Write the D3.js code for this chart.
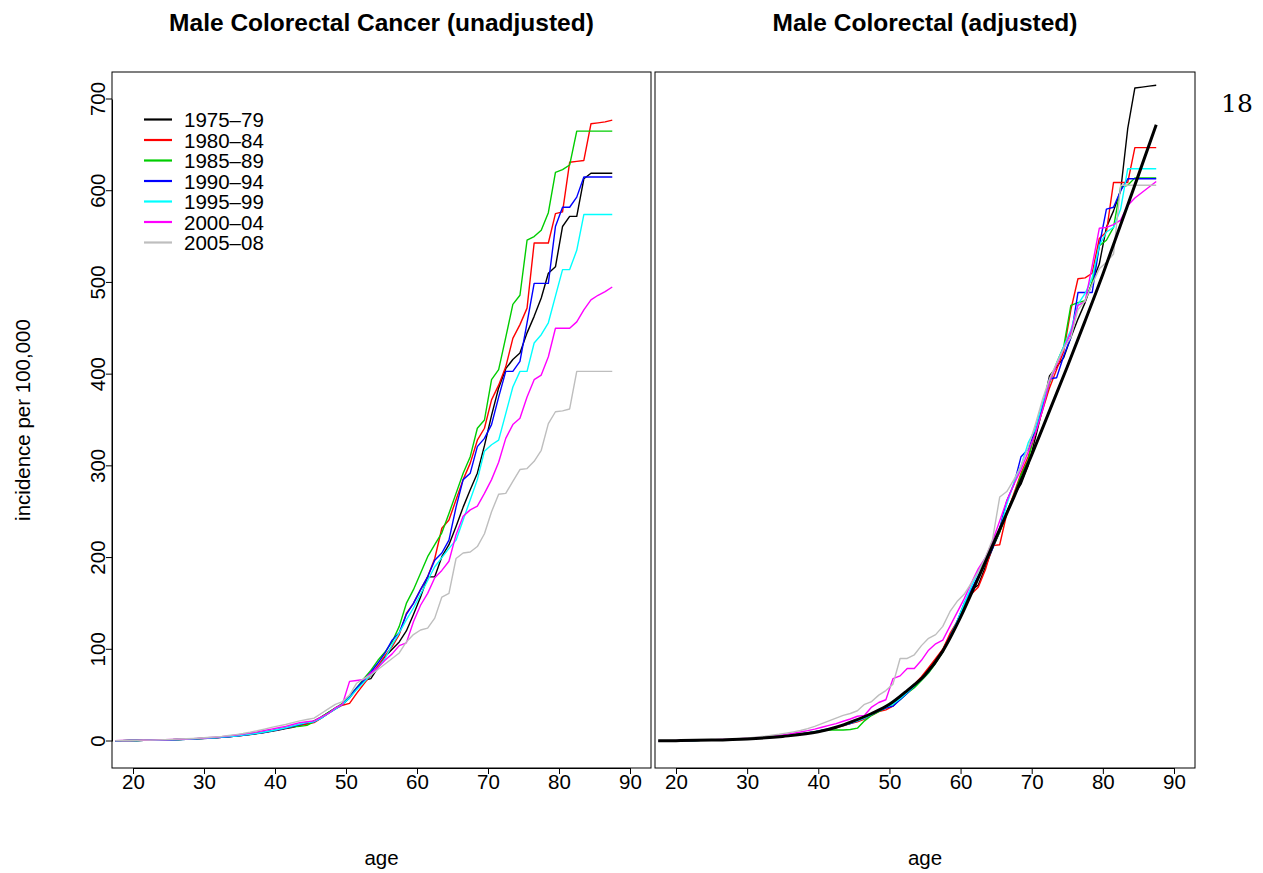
<!DOCTYPE html>
<html>
<head>
<meta charset="utf-8">
<script src="https://cdn.jsdelivr.net/npm/d3@7/dist/d3.min.js"></script>
<style>
  html, body { margin: 0; padding: 0; background: #fff; }
  svg { display: block; font-family: "Liberation Sans", Arial, Helvetica, sans-serif; }
</style>
</head>
<body>
<svg id="chart" width="1263" height="873"></svg>
<script>
// Age at the midpoint of each single-year band
const ages = [17.5,18.5,19.5,20.5,21.5,22.5,23.5,24.5,25.5,26.5,27.5,28.5,29.5,30.5,31.5,32.5,33.5,34.5,35.5,36.5,
  37.5,38.5,39.5,40.5,41.5,42.5,43.5,44.5,45.5,46.5,47.5,48.5,49.5,50.5,51.5,52.5,53.5,54.5,55.5,56.5,
  57.5,58.5,59.5,60.5,61.5,62.5,63.5,64.5,65.5,66.5,67.5,68.5,69.5,70.5,71.5,72.5,73.5,74.5,75.5,76.5,
  77.5,78.5,79.5,80.5,81.5,82.5,83.5,84.5,85.5,86.5,87.5];

const periods = ["1975\u201379","1980\u201384","1985\u201389","1990\u201394","1995\u201399","2000\u201304","2005\u201308"];
const periodColors = ["#000000","#FF0000","#00CD00","#0000FF","#00FFFF","#FF00FF","#BEBEBE"];

// Unadjusted incidence per 100,000 by period
const unadj7579 = [0.3,0.4,0.5,0.6,0.7,0.8,1.0,1.2,1.4,1.6,1.9,2.2,2.6,3.0,3.5,4.0,4.6,5.3,6.1,7.0,8.1,9.3,10.6,12,13.5,15,17,19,
  22,26,31,36,40,47,57,66,68,80,92,100,108,120,138,157,179,179,201,214,234,255,274,292,322,355,385,406,416,423,445,463,483,510,517,561,572,572,613,619,619,619,619];
const unadj8084 = [0.3,0.4,0.5,0.6,0.7,0.8,1.0,1.2,1.4,1.7,2.0,2.3,2.7,3.1,3.6,4.1,4.8,5.5,6.3,7.3,8.4,9.6,11,12.5,14,15.5,17,18.5,
  20,25,30,35,39,41,52,62,72,82,93,103,116,139,150,165,179,199,232,241,263,285,303,328,341,372,388,408,439,454,472,543,543,543,575,577,631,632,633,673,674,675,677];
const unadj8589 = [0.3,0.4,0.5,0.6,0.7,0.9,1.0,1.2,1.5,1.7,2.0,2.3,2.7,3.1,3.6,4.2,4.9,5.6,6.4,7.4,8.5,9.8,11.2,12.7,14.5,15.5,16,17,
  21,26,31,36,41,49,58,68,77,88,97,108,125,150,165,183,201,214,227,248,270,292,310,341,350,394,405,440,476,486,546,550,557,576,620,623,628,665,665,665,665,665,665];
const unadj9094 = [0.3,0.4,0.5,0.6,0.7,0.8,1.0,1.2,1.4,1.6,1.9,2.2,2.6,3.0,3.5,4.0,4.7,5.4,6.2,7.2,8.3,9.5,11,12.5,14,16,18,20,
  21,25,30,35,40,48,58,66,75,85,96,110,118,138,150,165,179,197,205,219,255,285,292,321,330,345,375,403,403,414,456,499,499,499,561,582,582,593,615,615,615,615,615];
const unadj9599 = [0.3,0.4,0.5,0.6,0.7,0.8,1.0,1.2,1.4,1.6,1.9,2.3,2.7,3.1,3.6,4.2,4.8,5.5,6.4,7.4,8.5,9.8,11.2,12.8,14.5,16.5,18.5,20,
  21,25,30,35,40,47,56,64,72,80,90,105,118,132,145,160,175,190,200,210,219,241,263,285,316,323,328,357,386,403,403,434,443,456,485,514,514,535,574,574,574,574,574];
const unadj0004 = [0.4,0.5,0.6,0.7,0.8,1.0,1.2,1.4,1.6,1.9,2.2,2.6,3.0,3.5,4.1,4.8,5.6,6.5,7.5,8.7,10,11.5,13,14.5,16,18,20,21,
  22,26,30,36,40,65,66,67,74,80,88,95,104,107,130,148,161,178,186,196,225,245,252,256,270,285,304,330,345,352,375,394,399,419,450,450,450,457,470,481,486,490,495];
const unadj0508 = [0.4,0.5,0.6,0.7,0.9,1.0,1.2,1.5,1.8,2.1,2.4,2.8,3.3,3.8,4.4,5.1,6.0,7.0,8.2,9.6,11.2,13,14.8,16.5,18,20,22,23.5,
  25,30,35,40,43,50,63,68,72,78,84,90,96,108,116,121,123,134,157,161,199,205,206,212,226,250,269,270,283,296,297,305,317,346,359,360,362,403,403,403,403,403,403];

// Adjusted incidence per 100,000 by period
const adj7579 = [0.2,0.3,0.3,0.4,0.5,0.6,0.7,0.9,1.0,1.2,1.5,1.8,2.1,2.5,3.0,3.5,4.1,4.8,5.6,6.5,7.5,8.7,10,11.5,13,15,17,19.5,
  22,25,29,33,37,42,48,55,62,68,78,88,100,114,130,148,165,170,190,210,228,250,268,280,300,330,362,398,408,418,440,460,478,500,520,560,578,600,668,712,713,714,715];
const adj8084 = [0.2,0.3,0.3,0.4,0.5,0.6,0.7,0.9,1.1,1.3,1.6,1.9,2.2,2.6,3.1,3.6,4.2,4.9,5.7,6.6,7.6,8.8,10,11.5,13,14.5,16.5,19,
  21,24,28,32,34,38,46,54,62,70,80,90,100,117,130,145,160,168,187,213,214,248,270,292,310,335,360,385,405,425,470,504,505,510,548,555,609,609,609,647,647,647,647];
const adj8589 = [0.2,0.3,0.3,0.4,0.5,0.6,0.7,0.9,1.1,1.3,1.6,1.9,2.3,2.7,3.2,3.7,4.3,5.0,5.8,6.7,7.7,8.9,10,11,12,12,12,12.5,
  14,22,28,32,36,40,45,52,58,66,74,85,97,113,128,148,162,178,195,212,228,248,268,290,306,340,362,390,412,430,475,478,480,500,540,546,560,604,606,614,614,614,614];
const adj9094 = [0.2,0.3,0.3,0.4,0.5,0.6,0.7,0.9,1.0,1.2,1.5,1.8,2.1,2.5,3.0,3.5,4.1,4.8,5.6,6.5,7.5,8.7,10,11.5,13,15,17,19,
  22,25,29,33,36,38,45,52,60,68,76,86,98,114,130,150,165,180,195,210,232,262,280,310,318,340,365,395,396,420,440,489,489,489,540,580,582,600,613,613,613,613,613];
const adj9599 = [0.2,0.3,0.3,0.4,0.5,0.6,0.8,0.9,1.1,1.3,1.6,1.9,2.2,2.6,3.1,3.6,4.2,4.9,5.7,6.6,7.6,8.8,10.2,11.7,13.3,15,17,19.5,
  22,25,29,33,37,40,46,53,60,67,75,86,98,113,130,150,168,185,200,212,230,258,282,300,325,340,368,392,412,430,448,476,488,505,540,555,560,580,624,624,624,624,624];
const adj0004 = [0.3,0.4,0.4,0.5,0.6,0.7,0.9,1.1,1.3,1.6,1.9,2.3,2.7,3.2,3.8,4.5,5.3,6.2,7.2,8.4,9.8,11.3,13,15,17,19,21.5,24,
  27,28,37,42,45,68,71,79,79,88,99,106,110,125,140,155,172,188,200,218,240,262,280,296,315,335,360,392,410,428,445,475,479,518,559,560,563,568,584,592,598,604,610];
const adj0508 = [0.3,0.4,0.5,0.6,0.7,0.8,1.0,1.2,1.5,1.8,2.2,2.6,3.1,3.7,4.4,5.2,6.2,7.3,8.6,10,11.5,13.5,16,19,22,25,28,30,
  33,40,43,50,55,62,90,90,94,104,112,116,125,141,152,160,172,185,200,220,266,272,285,300,320,345,372,395,412,428,440,470,480,498,515,522,531,606,606,606,606,606,606];

// Common age curve fitted across periods
const fitAges = [17.5,20,25,30,35,40,42.5,45,47.5,50,52.5,55,57.5,60,62.5,65,67.5,70,72.5,75,77.5,80,82.5,85,87.5];
const fitRate = [0.2,0.4,1,2.3,5,10,15,22,30,40,55,72,98,135,178,222,266,312,360,408,458,509,563,617,672];

const xTicks = [20,30,40,50,60,70,80,90];
const yTicks = [0,100,200,300,400,500,600,700];

const unadjSeries = [unadj7579, unadj8084, unadj8589, unadj9094, unadj9599, unadj0004, unadj0508];
const adjSeries = [adj7579, adj8084, adj8589, adj9094, adj9599, adj0004, adj0508];

const FONT = 20.5;
const svg = d3.select("#chart");

const y = d3.scaleLinear().domain([0, 700]).range([741, 99]);

const panels = [
  { box: [112, 651], xRange: [133, 630], title: "Male Colorectal Cancer (unadjusted)", series: unadjSeries, yAxis: true, fit: false },
  { box: [655, 1195], xRange: [676, 1174], title: "Male Colorectal (adjusted)", series: adjSeries, yAxis: false, fit: true }
];

const boxTop = 72, boxBottom = 768;

panels.forEach(p => {
  const x = d3.scaleLinear().domain([20, 90]).range(p.xRange);
  const g = svg.append("g");

  // plot frame
  g.append("rect")
    .attr("x", p.box[0]).attr("y", boxTop)
    .attr("width", p.box[1] - p.box[0]).attr("height", boxBottom - boxTop)
    .attr("fill", "none").attr("stroke", "#000").attr("stroke-width", 1);

  const clipId = "clip" + p.box[0];
  svg.append("clipPath").attr("id", clipId).append("rect")
    .attr("x", p.box[0]).attr("y", boxTop)
    .attr("width", p.box[1] - p.box[0]).attr("height", boxBottom - boxTop);

  const line = d3.line().x((d, i) => x(ages[i])).y(d => y(d));
  const lines = g.append("g").attr("clip-path", `url(#${clipId})`);
  p.series.forEach((s, k) => {
    lines.append("path")
      .datum(s)
      .attr("d", line)
      .attr("fill", "none")
      .attr("stroke", periodColors[k])
      .attr("stroke-width", 1.4)
      .attr("stroke-linejoin", "round");
  });

  if (p.fit) {
    const fitLine = d3.line().x((d, i) => x(fitAges[i])).y(d => y(d)).curve(d3.curveMonotoneX);
    lines.append("path")
      .datum(fitRate)
      .attr("d", fitLine)
      .attr("fill", "none")
      .attr("stroke", "#000")
      .attr("stroke-width", 3);
  }

  // x axis
  const xa = g.append("g")
    .attr("transform", `translate(0,${boxBottom})`)
    .call(d3.axisBottom(x).tickValues(xTicks).tickSize(6).tickSizeOuter(0).tickPadding(0));
  xa.select(".domain").attr("stroke", "#000");
  xa.selectAll("text").attr("font-size", FONT).attr("font-family", "Liberation Sans, Arial, sans-serif").attr("fill", "#000");

  g.append("text")
    .attr("x", (p.box[0] + p.box[1]) / 2)
    .attr("y", 865)
    .attr("text-anchor", "middle")
    .attr("font-size", FONT)
    .text("age");

  g.append("text")
    .attr("x", (p.box[0] + p.box[1]) / 2)
    .attr("y", 31)
    .attr("text-anchor", "middle")
    .attr("font-size", 24.5)
    .attr("font-weight", "bold")
    .text(p.title);

  if (p.yAxis) {
    const ya = g.append("g")
      .attr("transform", `translate(${p.box[0]},0)`)
      .call(d3.axisLeft(y).tickValues(yTicks).tickSize(6).tickSizeOuter(0));
    ya.selectAll("text")
      .attr("transform", "rotate(-90)")
      .attr("x", d => -y(d))
      .attr("y", -7)
      .attr("dy", 0)
      .attr("text-anchor", "middle")
      .attr("font-size", FONT)
      .attr("font-family", "Liberation Sans, Arial, sans-serif")
      .attr("fill", "#000");
    // tick labels are rotated around the axis group origin, so reposition
    ya.selectAll(".tick").attr("transform", null);
    ya.selectAll(".tick line").attr("transform", d => `translate(0,${y(d)})`);
  }
});

// y axis title
svg.append("text")
  .attr("transform", "translate(30,420) rotate(-90)")
  .attr("text-anchor", "middle")
  .attr("font-size", FONT)
  .text("incidence per 100,000");

// legend
const legend = svg.append("g");
periods.forEach((name, i) => {
  const ly = 119.5 + i * 20.5;
  legend.append("line")
    .attr("x1", 144).attr("x2", 172)
    .attr("y1", ly).attr("y2", ly)
    .attr("stroke", periodColors[i]).attr("stroke-width", 2.2);
  legend.append("text")
    .attr("x", 184).attr("y", ly + 7.5)
    .attr("font-size", FONT)
    .text(name);
});

// page number
svg.append("text")
  .attr("x", 1237).attr("y", 112)
  .attr("text-anchor", "middle")
  .attr("font-family", "DejaVu Serif, Liberation Serif, serif")
  .attr("font-size", 25)
  .text("18");
</script>
</body>
</html>
